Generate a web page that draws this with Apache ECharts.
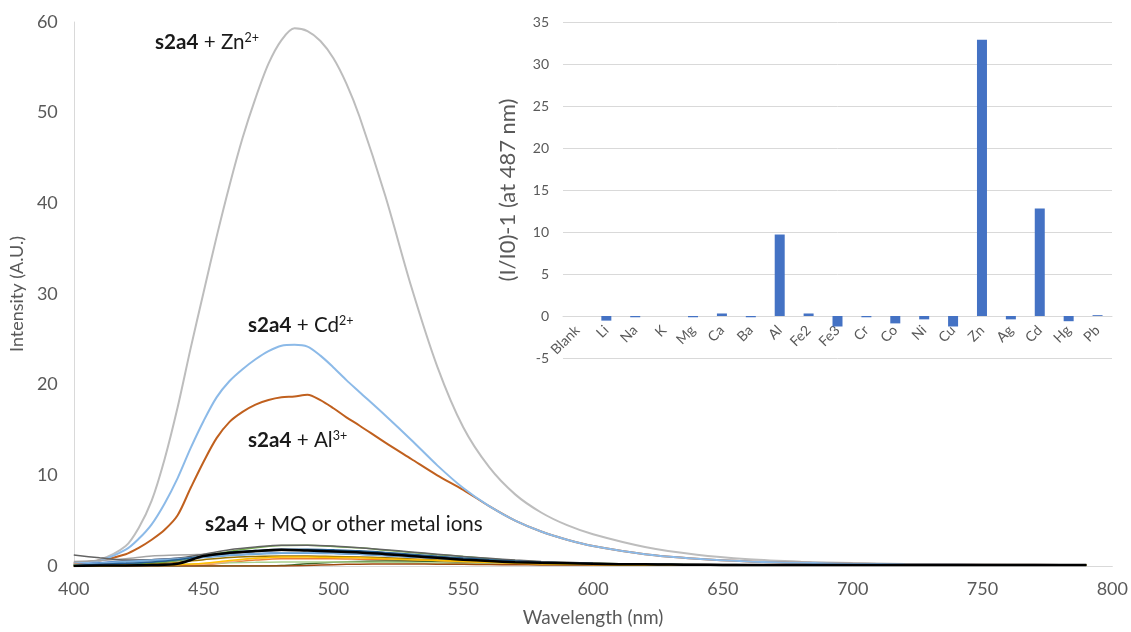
<!DOCTYPE html>
<html><head><meta charset="utf-8">
<script src="https://cdn.jsdelivr.net/npm/echarts@6/dist/echarts.min.js"></script>
<style>html,body{margin:0;padding:0;background:#fff}#c{width:1131px;height:632px}</style>
</head><body><div id="c"></div>
<script>
// wavelengths (nm) for the three strong responses (denser around the peak)
const wlBig = [400,410,420,425,430,435,440,445,450,455,
               460,465,470,475,480,485,490,495,500,505,
               510,520,530,540,550,560,570,580,590,600,
               620,640,660,680,700,720,740,760,780,790];
const zn = [0.3,0.7,2.2,4.2,7.2,11.8,17.5,24,30.2,36.3,
            42,47.2,51.6,55.4,58,59.3,59.0,57.9,56.0,53.2,
            49.6,40.8,30.8,22,15.3,10.9,7.9,5.9,4.5,3.5,
            2.1,1.25,0.75,0.48,0.32,0.22,0.16,0.12,0.1,0.1];
const cd = [0.3,0.6,1.8,3.0,4.6,6.9,9.7,13,16.0,18.6,
            20.4,21.7,22.8,23.7,24.3,24.4,24.2,23.2,21.9,20.5,
            19.2,16.6,13.9,11.1,8.6,6.6,5.0,3.8,2.9,2.2,
            1.3,0.8,0.5,0.35,0.26,0.2,0.16,0.14,0.12,0.12];
const al = [0.3,0.6,1.3,2.0,2.9,4.0,5.6,8.6,11.5,14.1,
            15.9,17.0,17.8,18.3,18.6,18.7,18.9,18.3,17.4,16.4,
            15.5,13.6,11.8,10.0,8.4,6.6,5.0,3.8,2.9,2.2,
            1.3,0.8,0.5,0.35,0.26,0.2,0.16,0.14,0.12,0.12];

// wavelengths (nm) for the weak responses
const wl = [400,410,420,430,440,450,460,470,480,490,
            500,510,520,530,540,550,560,570,580,590,
            600,610,620,630,640,650,660,670,680,690,
            700,710,720,730,740,750,760,770,780,790];
const blank = [0,0.05,0.05,0.1,0.25,1.1,1.45,1.65,1.8,1.7,
            1.6,1.5,1.3,1.1,0.9,0.7,0.55,0.42,0.35,0.3,
            0.25,0.2,0.18,0.16,0.14,0.12,0.11,0.1,0.1,0.1,
            0.1,0.1,0.1,0.1,0.1,0.1,0.1,0.1,0.1,0.1];
const ca = [0.1,0.1,0.15,0.3,0.6,1.1,1.6,2.0,2.25,2.3,
            2.15,2.0,1.75,1.5,1.25,1.05,0.8,0.6,0.45,0.35,
            0.3,0.25,0.2,0.18,0.15,0.13,0.12,0.1,0.1,0.1,
            0.1,0.1,0.1,0.1,0.1,0.1,0.1,0.1,0.1,0.1];
const fe2 = [1.2,0.9,0.65,0.7,0.85,1.3,1.8,2.1,2.3,2.3,
            2.2,2.0,1.8,1.55,1.3,1.05,0.85,0.65,0.5,0.4,
            0.32,0.26,0.22,0.2,0.18,0.16,0.15,0.14,0.13,0.12,
            0.12,0.12,0.11,0.11,0.1,0.1,0.1,0.1,0.1,0.1];
const na = [0.5,0.6,0.8,1.1,1.2,1.3,1.45,1.6,1.7,1.7,
            1.65,1.55,1.4,1.2,1.0,0.82,0.65,0.5,0.4,0.32,
            0.26,0.22,0.18,0.16,0.14,0.12,0.11,0.1,0.1,0.1,
            0.1,0.1,0.1,0.1,0.1,0.1,0.1,0.1,0.1,0.1];
const mg = [0.1,0.35,0.55,0.7,0.85,1.0,1.2,1.35,1.45,1.45,
            1.4,1.3,1.15,1.0,0.85,0.7,0.55,0.42,0.33,0.27,
            0.22,0.18,0.16,0.14,0.12,0.11,0.1,0.1,0.1,0.1,
            0.1,0.1,0.1,0.1,0.1,0.1,0.1,0.1,0.1,0.1];
const ba = [0.05,0.3,0.45,0.6,0.75,0.95,1.15,1.3,1.4,1.42,
            1.38,1.3,1.15,1.0,0.85,0.7,0.55,0.42,0.33,0.27,
            0.22,0.18,0.16,0.14,0.12,0.11,0.1,0.1,0.1,0.1,
            0.1,0.1,0.1,0.1,0.1,0.1,0.1,0.1,0.1,0.1];
const k = [0.05,0.1,0.2,0.35,0.6,1.0,1.4,1.6,1.75,1.75,
            1.7,1.6,1.4,1.2,1.0,0.8,0.62,0.48,0.38,0.3,
            0.25,0.2,0.17,0.15,0.13,0.12,0.11,0.1,0.1,0.1,
            0.1,0.1,0.1,0.1,0.1,0.1,0.1,0.1,0.1,0.1];
const hg = [0,0,0.05,0.1,0.15,0.3,0.6,0.85,1.0,1.0,
            0.95,0.9,0.8,0.7,0.6,0.5,0.4,0.3,0.25,0.2,
            0.17,0.15,0.13,0.12,0.11,0.1,0.1,0.1,0.1,0.1,
            0.1,0.1,0.1,0.1,0.1,0.1,0.1,0.1,0.1,0.1];
const li = [0.2,0.25,0.2,0.15,0.1,0.15,0.4,0.65,0.8,0.8,
            0.8,0.75,0.7,0.6,0.5,0.4,0.3,0.25,0.2,0.17,
            0.15,0.13,0.12,0.11,0.1,0.1,0.1,0.1,0.1,0.1,
            0.1,0.1,0.1,0.1,0.1,0.1,0.1,0.1,0.1,0.1];
const ni = [0,0.05,0.05,0.1,0.1,0.2,0.5,0.85,1.0,1.05,
            1.0,0.95,0.85,0.75,0.62,0.5,0.4,0.32,0.26,0.21,
            0.18,0.15,0.13,0.12,0.11,0.1,0.1,0.1,0.1,0.1,
            0.1,0.1,0.1,0.1,0.1,0.1,0.1,0.1,0.1,0.1];
const fe3 = [0,0,0,0,0,0,0,0,0.05,0.25,
            0.4,0.5,0.55,0.55,0.5,0.45,0.4,0.35,0.3,0.25,
            0.2,0.17,0.15,0.13,0.12,0.11,0.1,0.1,0.1,0.1,
            0.1,0.1,0.1,0.1,0.1,0.1,0.1,0.1,0.1,0.1];
const cu = [0,0,0,0,0,0,0,0,0,0.05,
            0.15,0.2,0.22,0.22,0.2,0.18,0.16,0.14,0.12,0.1,
            0.1,0.1,0.1,0.1,0.1,0.1,0.1,0.1,0.1,0.1,
            0.1,0.1,0.1,0.1,0.1,0.1,0.1,0.1,0.1,0.1];
const co = [0.15,0.1,0.1,0.1,0.15,0.25,0.35,0.4,0.45,0.45,
            0.45,0.42,0.4,0.36,0.32,0.28,0.24,0.2,0.17,0.15,
            0.13,0.12,0.11,0.1,0.1,0.1,0.1,0.1,0.1,0.1,
            0.1,0.1,0.1,0.1,0.1,0.1,0.1,0.1,0.1,0.1];
const ag = [0,0.05,0.1,0.2,0.4,0.7,0.95,1.05,1.1,1.1,
            1.05,1.0,0.9,0.78,0.66,0.55,0.44,0.35,0.28,0.22,
            0.18,0.15,0.13,0.12,0.11,0.1,0.1,0.1,0.1,0.1,
            0.1,0.1,0.1,0.1,0.1,0.1,0.1,0.1,0.1,0.1];
const cr = [0.1,0.3,0.5,0.65,0.8,1.0,1.2,1.35,1.45,1.45,
            1.4,1.32,1.18,1.02,0.86,0.7,0.56,0.43,0.34,0.27,
            0.22,0.18,0.16,0.14,0.12,0.11,0.1,0.1,0.1,0.1,
            0.1,0.1,0.1,0.1,0.1,0.1,0.1,0.1,0.1,0.1];
const pb = [0.05,0.2,0.3,0.45,0.7,1.1,1.5,1.7,1.85,1.85,
            1.78,1.68,1.5,1.3,1.08,0.88,0.7,0.54,0.42,0.34,
            0.27,0.22,0.18,0.16,0.14,0.12,0.11,0.1,0.1,0.1,
            0.1,0.1,0.1,0.1,0.1,0.1,0.1,0.1,0.1,0.1];

// Inset bar chart
const ions = ['Blank','Li','Na','K','Mg','Ca','Ba','Al','Fe2','Fe3','Cr','Co','Ni','Cu','Zn','Ag','Cd','Hg','Pb'];
const ratio = [0,-0.55,-0.15,0,-0.15,0.3,-0.15,9.7,0.3,-1.25,-0.15,-0.88,-0.4,-1.25,32.9,-0.4,12.8,-0.62,0.1];

const FONT = 'Lato, "Open Sans", sans-serif';
const TICK = '#595959';
const AX = '#D9D9D9';

const lowSeries = [
  ['Li', li, '#ED7D31', 1.5], ['Na', na, '#A5A5A5', 1.5], ['K', k, '#264478', 1.5],
  ['Mg', mg, '#4472C4', 1.5], ['Ca', ca, '#70AD47', 1.5], ['Ba', ba, '#5B9BD5', 1.5],
  ['Fe2', fe2, '#636363', 1.5], ['Fe3', fe3, '#43682B', 1.5], ['Cr', cr, '#7CAFDD', 1.5],
  ['Co', co, '#A9D18E', 1.5], ['Ni', ni, '#F4B183', 1.5], ['Cu', cu, '#9E480E', 1.5],
  ['Ag', ag, '#997300', 1.5], ['Hg', hg, '#FFC000', 1.5], ['Pb', pb, '#255E91', 1.5],
  ['Blank', blank, '#000000', 2.5]
];
const mainSeries = [
  ['Zn', zn, '#BDBDBD', 2], ['Al', al, '#C0601E', 2], ['Cd', cd, '#8CBAE8', 2]
];

function lineSeries(name, xs, vals, color, width) {
  return {
    type: 'line', name, xAxisIndex: 0, yAxisIndex: 0,
    data: xs.map((w, i) => [w, vals[i]]),
    smooth: 0.3, showSymbol: false, silent: true,
    lineStyle: { color, width }, z: 2
  };
}

const series = [];
mainSeries.forEach(s => series.push(lineSeries(s[0], wlBig, s[1], s[2], s[3])));
lowSeries.forEach(s => series.push(lineSeries(s[0], wl, s[1], s[2], s[3])));
series.push({
  type: 'bar', name: 'ratio', xAxisIndex: 1, yAxisIndex: 1,
  data: ratio, barWidth: 10, itemStyle: { color: '#4472C4' }, z: 3
});

const label = (x, y, t) => ({
  type: 'text', left: x, top: y, z: 10,
  style: {
    text: t, fill: '#1a1a1a', fontSize: 20.6, fontFamily: FONT,
    rich: {
      b: { fontWeight: 'bold', fontSize: 20.6, fontFamily: FONT, fill: '#1a1a1a' },
      n: { fontSize: 20.6, fontFamily: FONT, fill: '#1a1a1a' },
      s: { fontSize: 12.5, fontFamily: FONT, fill: '#1a1a1a', verticalAlign: 'top', padding: [0, 0, 9, 0] }
    }
  }
});

const chart = echarts.init(document.getElementById('c'), null, { renderer: 'canvas' });
chart.setOption({
  animation: false,
  backgroundColor: '#fff',
  textStyle: { fontFamily: FONT },
  grid: [
    { left: 73, right: 18, top: 22, bottom: 64 },
    { left: 563, right: 19, top: 22, bottom: 274 }
  ],
  xAxis: [
    {
      type: 'value', gridIndex: 0, min: 400, max: 800, interval: 50,
      name: 'Wavelength (nm)', nameLocation: 'middle', nameGap: 42,
      nameTextStyle: { color: TICK, fontSize: 19, fontFamily: FONT },
      axisLine: { show: true, lineStyle: { color: AX, width: 1 } },
      axisTick: { show: false }, splitLine: { show: false },
      axisLabel: { color: TICK, fontSize: 18, fontFamily: FONT, margin: 14 }
    },
    {
      type: 'category', gridIndex: 1, data: ions, position: 'bottom', offset: -42,
      axisLine: { show: true, onZero: false, lineStyle: { color: AX } },
      axisTick: { show: false },
      axisLabel: { color: TICK, fontSize: 14, fontFamily: FONT, rotate: 45, interval: 0, margin: 12 }
    }
  ],
  yAxis: [
    {
      type: 'value', gridIndex: 0, min: 0, max: 60, interval: 10,
      name: 'Intensity (A.U.)', nameLocation: 'middle', nameGap: 45,
      nameTextStyle: { color: TICK, fontSize: 18, fontFamily: FONT },
      axisLine: { show: true, lineStyle: { color: AX, width: 1 } },
      axisTick: { show: false }, splitLine: { show: false },
      axisLabel: { color: TICK, fontSize: 18, fontFamily: FONT, margin: 16 }
    },
    {
      type: 'value', gridIndex: 1, min: -5, max: 35, interval: 5,
      name: '(I/I0)-1 (at 487 nm)', nameLocation: 'middle', nameGap: 44,
      nameTextStyle: { color: TICK, fontSize: 22, fontFamily: FONT },
      axisLine: { show: false }, axisTick: { show: false },
      splitLine: { show: true, lineStyle: { color: AX, width: 1 } },
      axisLabel: { color: TICK, fontSize: 14, fontFamily: FONT, margin: 14 }
    }
  ],
  graphic: [
    label(155, 31, '{b|s2a4}{n| + Zn}{s|2+}'),
    label(248, 314, '{b|s2a4}{n| + Cd}{s|2+}'),
    label(248, 429, '{b|s2a4}{n| + Al}{s|3+}'),
    label(205, 514, '{b|s2a4}{n| + MQ or other metal ions}')
  ],
  series
});
</script></body></html>
